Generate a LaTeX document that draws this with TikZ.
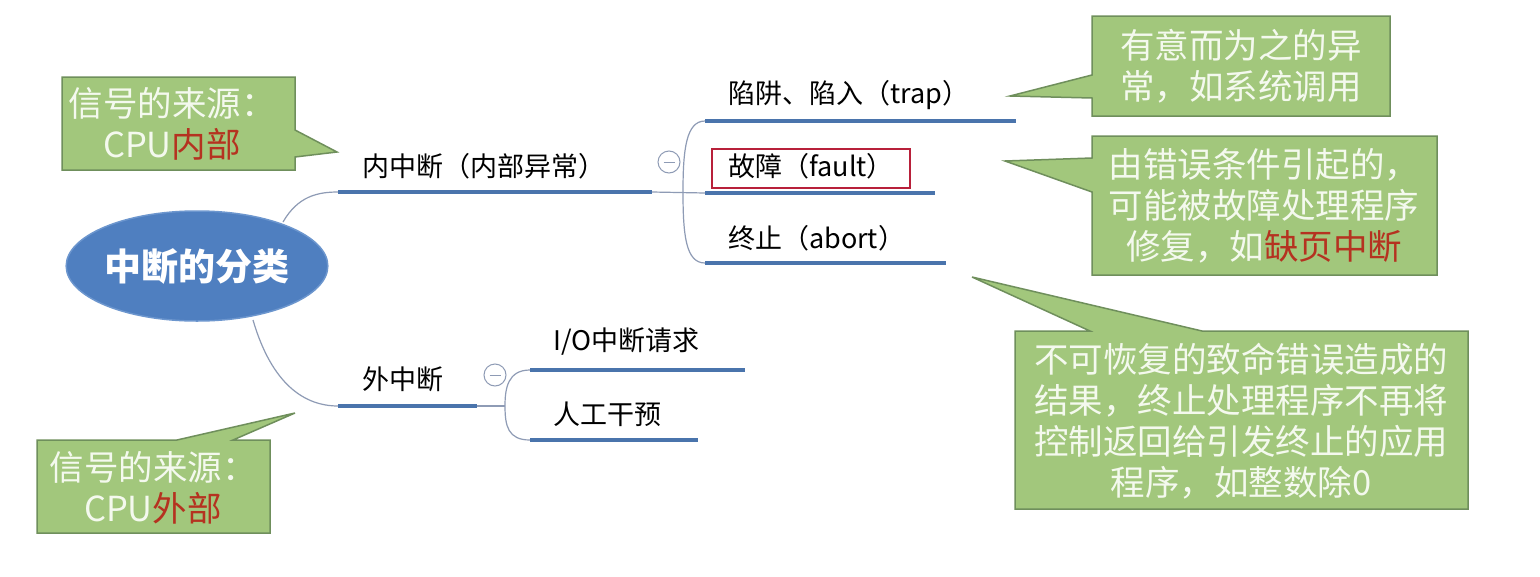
\documentclass[tikz,border=0pt]{standalone}
\usepackage{fontspec}
\setmainfont{Noto Sans CJK SC}
\usetikzlibrary{shapes.geometric}
\definecolor{callfill}{HTML}{A2C77C}
\definecolor{calldraw}{HTML}{6F8F5C}
\definecolor{calltext}{HTML}{F4F9EE}
\definecolor{hired}{HTML}{B53220}
\definecolor{ulblue}{HTML}{4A74AC}
\definecolor{linkc}{HTML}{8E9BB5}
\definecolor{ellfill}{HTML}{4F7FC0}
\definecolor{elldraw}{HTML}{6C96CE}
\definecolor{boxred}{HTML}{B8203A}
\begin{document}
\begin{tikzpicture}[x=1pt,y=-1pt,
  callout/.style={fill=callfill,draw=calldraw,line width=1.5pt,line join=miter},
  calltxt/.style={text=calltext,font=\fontsize{34.5}{41}\selectfont,align=center,inner sep=0pt},
  branch/.style={font=\fontsize{27}{32}\selectfont,anchor=west,inner sep=0pt,text=black},
  uline/.style={draw=ulblue,line width=4pt},
  link/.style={draw=linkc,line width=1.2pt},
  fold/.style={circle,draw=linkc,line width=1pt,minimum size=22pt,inner sep=0pt,fill=white}]
\fill[white] (0,0) rectangle (1540,576);
\useasboundingbox (0,0) rectangle (1540,576);

% root
\node[ellipse,fill=ellfill,draw=elldraw,line width=1.5pt,minimum width=256pt,minimum height=110pt,inner sep=0pt,text=white]
  (root) at (197,266) {\fontsize{37}{40}\selectfont\bfseries 中断的分类};

% coordinates
\coordinate (rootUp) at (283,222);
\coordinate (rootDn) at (253,320);
\coordinate (inA) at (338,192);
\coordinate (inB) at (652,192);
\coordinate (outA) at (338,406);
\coordinate (outB) at (477,406);
\coordinate (trA) at (705,121);  \coordinate (trB) at (1016,121);
\coordinate (faA) at (705,193);  \coordinate (faB) at (935,193);
\coordinate (abA) at (705,263);  \coordinate (abB) at (946,263);
\coordinate (ioA) at (530,370);  \coordinate (ioB) at (745,370);
\coordinate (mnA) at (530,440);  \coordinate (mnB) at (698,440);
\coordinate (brU) at (683,192);
\coordinate (brL) at (505,406);

% links
\draw[link] (rootUp) .. controls (298,196) and (318,192) .. (inA);
\draw[link] (rootDn) .. controls (272,385) and (305,406) .. (outA);
\draw[link] (inB) -- (faA);
\draw[link] (trA) .. controls (686,121) and (683,150) .. (brU) .. controls (683,236) and (686,263) .. (abA);
\draw[link] (outB) -- (brL);
\draw[link] (ioA) .. controls (508,370) and (505,388) .. (brL) .. controls (505,426) and (508,440) .. (mnA);

% underlines
\draw[uline] (inA) -- (inB);
\draw[uline] (outA) -- (outB);
\draw[uline] (trA) -- (trB);
\draw[uline] (faA) -- (faB);
\draw[uline] (abA) -- (abB);
\draw[uline] (ioA) -- (ioB);
\draw[uline] (mnA) -- (mnB);

% fold markers
\node[fold] (foldIn) at (669,162) {};
\draw[linkc,line width=1pt] ([xshift=-5.5pt]foldIn.center) -- ([xshift=5.5pt]foldIn.center);
\node[fold] (foldOut) at (495,375) {};
\draw[linkc,line width=1pt] ([xshift=-5.5pt]foldOut.center) -- ([xshift=5.5pt]foldOut.center);

% branch texts
\node[branch] (inner) at (362,166) {内中断（内部异常）};
\node[branch] (outer) at (362,379) {外中断};
\node[branch] (trap) at (728,95) {陷阱、陷入（trap）};
\node[branch] (fault) at (728,166) {故障（fault）};
\node[branch] (abort) at (728,238) {终止（abort）};
\node[branch] (io) at (553,342) {I/O中断请求};
\node[branch] (manual) at (553,414) {人工干预};

% red box
\node[draw=boxred,line width=2pt,minimum width=198pt,minimum height=39pt,inner sep=0pt] (faultbox) at (811,168) {};

% callouts
\draw[callout] (62,77) -- (295,77) -- (295,130) -- (337,152) -- (295,157) -- (295,170) -- (62,170) -- cycle;
\node[calltxt] (c1) at (172,124) {信号的来源：\\CPU{\color{hired}内部}};

\draw[callout] (1092,16) -- (1390,16) -- (1390,116) -- (1092,116) -- (1092,98) -- (1010,96) -- (1092,75) -- cycle;
\node[calltxt] (c2) at (1241,66) {有意而为之的异\\常，如系统调用};

\draw[callout] (1092,136) -- (1437,136) -- (1437,275) -- (1092,275) -- (1092,192) -- (1005,161) -- (1092,158) -- cycle;
\node[calltxt] (c3) at (1264,206) {由错误条件引起的，\\可能被故障处理程序\\修复，如{\color{hired}缺页中断}};

\draw[callout] (1015,331) -- (1090,331) -- (972,277) -- (1202,331) -- (1468,331) -- (1468,509) -- (1015,509) -- cycle;
\node[calltxt] (c4) at (1241,421) {不可恢复的致命错误造成的\\结果，终止处理程序不再将\\控制返回给引发终止的应用\\程序，如整数除0};

\draw[callout] (37,440) -- (177,440) -- (295,413) -- (233,440) -- (270,440) -- (270,533) -- (37,533) -- cycle;
\node[calltxt] (c5) at (153,488) {信号的来源：\\CPU{\color{hired}外部}};
\end{tikzpicture}
\end{document}
